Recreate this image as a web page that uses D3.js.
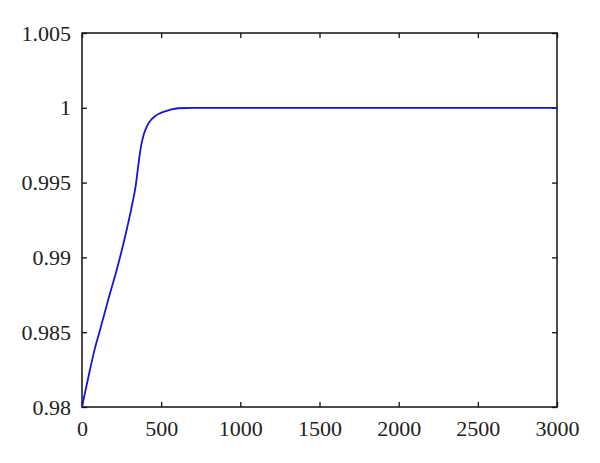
<!DOCTYPE html>
<html>
<head>
<meta charset="utf-8">
<script src="https://cdn.jsdelivr.net/npm/d3@7"></script>
<style>
  body { margin: 0; background: #fff; }
  text { font-family: "Liberation Serif", "DejaVu Serif", serif; }
</style>
</head>
<body>
<svg></svg>
<script>
const width = 600, height = 463
const margin = {top: 33, right: 43, bottom: 56, left: 82}

// curve
const xs = [0, 25, 50, 80, 114, 140, 166, 219, 272, 314, 340, 348, 355, 365, 375, 390, 409, 435, 461, 490, 524, 560, 608, 700, 3000]
const ys = [0.98, 0.98125, 0.98247, 0.98385, 0.98515, 0.98617, 0.98718, 0.98916, 0.99138, 0.99339, 0.99485, 0.99550, 0.9961, 0.9969, 0.99755, 0.99822, 0.99874, 0.99918, 0.99944, 0.99962, 0.99976, 0.99988, 0.99997, 1, 1]

const xTicks = [0, 500, 1000, 1500, 2000, 2500, 3000]
const yTicks = [0.98, 0.985, 0.99, 0.995, 1, 1.005]
const yTickLabels = ["0.98", "0.985", "0.99", "0.995", "1", "1.005"]

var svg = d3.select("svg")
    .attr("width", width)
    .attr("height", height);

const x = d3.scaleLinear().domain([0, 3000]).range([margin.left, width - margin.right])
const y = d3.scaleLinear().domain([0.98, 1.005]).range([height - margin.bottom, margin.top])

// ticks inward on all four sides
svg.append("g")
    .attr("transform", `translate(0,${height - margin.bottom})`)
    .call(d3.axisBottom(x).tickValues(xTicks).tickSizeInner(-5).tickSizeOuter(0).tickPadding(13)
        .tickFormat(d3.format("d")))
svg.append("g")
    .attr("transform", `translate(0,${margin.top})`)
    .call(d3.axisTop(x).tickValues(xTicks).tickSizeInner(-5).tickSizeOuter(0).tickFormat(""))
svg.append("g")
    .attr("transform", `translate(${margin.left},0)`)
    .call(d3.axisLeft(y).tickValues(yTicks).tickSizeInner(-5).tickSizeOuter(0).tickPadding(11)
        .tickFormat((d, i) => yTickLabels[i]))
svg.append("g")
    .attr("transform", `translate(${width - margin.right},0)`)
    .call(d3.axisRight(y).tickValues(yTicks).tickSizeInner(-5).tickSizeOuter(0).tickFormat(""))

svg.selectAll(".domain").remove()
svg.selectAll(".tick line").attr("stroke", "#111").attr("stroke-width", 1.3)
svg.selectAll(".tick text")
    .style("font-family", "'Liberation Serif', 'DejaVu Serif', serif")
    .style("font-size", "22px")
    .attr("fill", "#222")

svg.append("rect")
    .attr("x", margin.left).attr("y", margin.top)
    .attr("width", width - margin.left - margin.right)
    .attr("height", height - margin.top - margin.bottom)
    .attr("fill", "none").attr("stroke", "#111").attr("stroke-width", 1.5)

const line = d3.line()
    .x((d, i) => x(xs[i]))
    .y((d, i) => y(ys[i]))
    .curve(d3.curveMonotoneX)

svg.append("path")
    .attr("d", line(xs))
    .attr("fill", "none")
    .attr("stroke", "#1414dc")
    .attr("stroke-width", 1.8)
</script>
</body>
</html>
